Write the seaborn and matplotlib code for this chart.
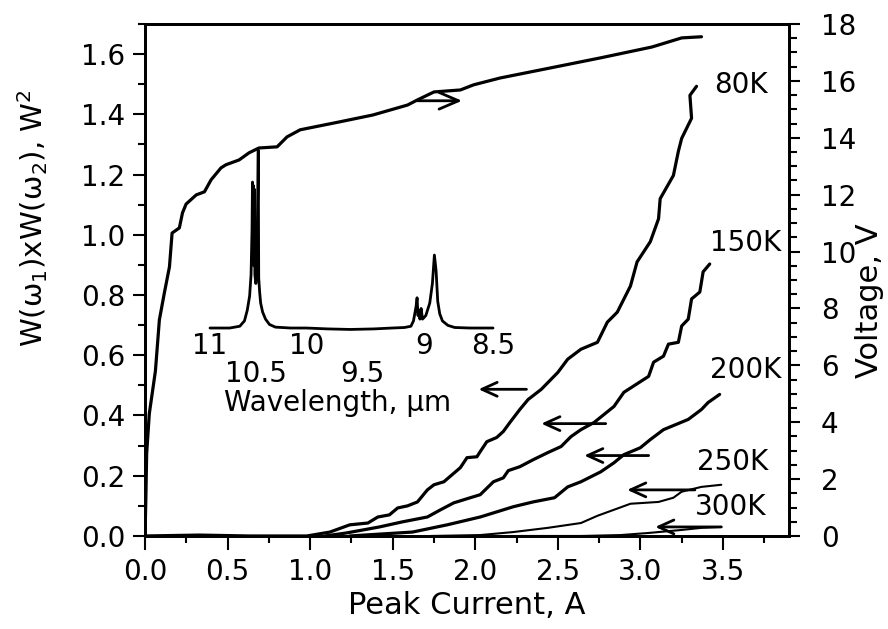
import numpy as np
import pandas as pd
import matplotlib
matplotlib.use("Agg")
import matplotlib.pyplot as plt
from matplotlib.ticker import MultipleLocator
import seaborn as sns

# --- output power curves (left axis), current in A, power in W^2 ---
i_80k = [0.0, 0.33, 0.63, 0.98, 1.12, 1.24, 1.35, 1.41, 1.48, 1.53, 1.59, 1.65, 1.71, 1.75, 1.81,
         1.91, 1.95, 2.01, 2.03, 2.07, 2.13, 2.17, 2.21, 2.27, 2.32, 2.40, 2.50, 2.56, 2.64, 2.74,
         2.80, 2.86, 2.94, 2.98, 3.06, 3.11, 3.12, 3.20, 3.23, 3.25, 3.31, 3.30, 3.34]
p_80k = [0.0, 0.003, 0.0, 0.0, 0.013, 0.037, 0.043, 0.063, 0.07, 0.093, 0.10, 0.113, 0.153, 0.17, 0.18,
         0.227, 0.26, 0.263, 0.28, 0.313, 0.327, 0.347, 0.377, 0.42, 0.453, 0.487, 0.543, 0.587, 0.62, 0.643,
         0.71, 0.743, 0.83, 0.91, 0.977, 1.053, 1.12, 1.197, 1.277, 1.32, 1.387, 1.463, 1.493]

i_150k = [1.09, 1.22, 1.42, 1.56, 1.71, 1.79, 1.87, 1.97, 2.03, 2.11, 2.17, 2.20, 2.27, 2.35, 2.44,
          2.52, 2.58, 2.64, 2.72, 2.84, 2.90, 3.05, 3.08, 3.14, 3.17, 3.23, 3.25, 3.29, 3.31, 3.36,
          3.38, 3.42]
p_150k = [0.0, 0.01, 0.03, 0.047, 0.063, 0.087, 0.11, 0.127, 0.137, 0.18, 0.193, 0.217, 0.23, 0.253, 0.277,
          0.297, 0.33, 0.353, 0.377, 0.43, 0.477, 0.53, 0.577, 0.597, 0.637, 0.643, 0.697, 0.72, 0.787, 0.81,
          0.877, 0.903]

i_200k = [1.24, 1.62, 1.83, 2.03, 2.23, 2.35, 2.48, 2.56, 2.64, 2.76, 2.84, 2.90, 3.00, 3.06, 3.14,
          3.29, 3.37, 3.41, 3.48]
p_200k = [0.0, 0.013, 0.037, 0.063, 0.097, 0.113, 0.127, 0.163, 0.18, 0.213, 0.243, 0.27, 0.293, 0.32, 0.353,
          0.387, 0.42, 0.443, 0.47]

i_250k = [1.73, 2.03, 2.23, 2.44, 2.64, 2.74, 2.84, 2.94, 3.11, 3.20, 3.25, 3.37, 3.49]
p_250k = [0.0, 0.003, 0.013, 0.027, 0.043, 0.067, 0.087, 0.107, 0.113, 0.127, 0.147, 0.163, 0.17]

i_300k = [2.27, 2.64, 2.88, 3.05, 3.25, 3.37, 3.49]
p_300k = [0.0, 0.0, 0.003, 0.01, 0.02, 0.027, 0.03]

# --- voltage-current curve (right axis) ---
i_volt = [0.0, 0.005, 0.01, 0.026, 0.063, 0.087, 0.117, 0.148, 0.164, 0.208, 0.227, 0.249, 0.31, 0.36,
          0.40, 0.46, 0.49, 0.57, 0.63, 0.69, 0.80, 0.86, 0.94, 1.18, 1.38, 1.59, 1.65, 1.75, 1.91,
          1.99, 2.15, 2.46, 2.76, 3.07, 3.25, 3.37]
volt = [0.0, 1.27, 2.9, 4.3, 5.8, 7.6, 8.54, 9.46, 10.65, 10.83, 11.36, 11.67, 11.99, 12.1,
        12.52, 12.94, 13.05, 13.22, 13.47, 13.64, 13.68, 14.03, 14.28, 14.56, 14.80, 15.15, 15.33, 15.61, 15.68,
        15.86, 16.10, 16.46, 16.81, 17.19, 17.51, 17.55]

# --- inset spectrum ---
wl_spec = [11.0, 10.78, 10.67, 10.62, 10.59, 10.565, 10.55, 10.54, 10.535, 10.53, 10.525, 10.52, 10.515,
           10.51, 10.50, 10.49, 10.475, 10.47, 10.46, 10.45, 10.43, 10.40, 10.36, 10.30, 10.15, 10.0, 9.8,
           9.6, 9.4, 9.25, 9.15, 9.10, 9.08, 9.06, 9.052, 9.045, 9.037, 9.03, 9.021, 9.01, 8.985, 8.955,
           8.935, 8.92, 8.907, 8.895, 8.88, 8.86, 8.82, 8.77, 8.66, 8.5]
int_spec = [0.0, 0.0, 0.01, 0.04, 0.10, 0.18, 0.30, 0.55, 0.82, 0.40, 0.80, 0.35, 0.78,
            0.30, 0.25, 0.30, 1.0, 0.28, 0.20, 0.14, 0.09, 0.05, 0.02, 0.005, 0.0, 0.0, -0.005,
            -0.008, -0.005, 0.0, 0.003, 0.01, 0.04, 0.12, 0.17, 0.07, 0.10, 0.05, 0.11, 0.05, 0.07, 0.14,
            0.25, 0.41, 0.32, 0.15, 0.08, 0.04, 0.015, 0.003, 0.0, 0.0]
wl_ticks = [11, 10.5, 10, 9.5, 9, 8.5]
wl_labels = ["11", "\n10.5", "10", "\n9.5", "9", "8.5"]

# --- temperature labels and arrows ---
temps = ["80K", "150K", "200K", "250K", "300K"]
temp_x = [3.61, 3.64, 3.635, 3.56, 3.545]
temp_y = [1.497, 0.973, 0.55, 0.247, 0.097]
arrow_tail = [2.31, 2.79, 3.05, 3.33, 3.49]
arrow_tip = [2.02, 2.40, 2.66, 2.92, 3.09]
arrow_y = [0.487, 0.373, 0.267, 0.153, 0.03]

sns.set_theme(style="ticks")
plt.rcParams["font.family"] = ["DejaVu Sans"]
plt.rcParams["axes.linewidth"] = 2.0
for key in ["text.color", "axes.labelcolor", "xtick.color", "ytick.color", "axes.edgecolor"]:
    plt.rcParams[key] = "black"

fig = plt.figure(figsize=(8.88, 6.29), dpi=100)
ax = fig.add_axes([0.1633, 0.1479, 0.7252, 0.8140])

curves = [(i_80k, p_80k, 2.3), (i_150k, p_150k, 2.3), (i_200k, p_200k, 2.3),
          (i_250k, p_250k, 1.5), (i_300k, p_300k, 1.5)]
for xs, ys, lw in curves:
    sns.lineplot(x=xs, y=ys, sort=False, estimator=None, color="black", lw=lw, ax=ax)

ax.set_xlim(0, 3.9)
ax.set_ylim(0, 1.7)
ax.set_xticks(np.arange(0, 3.51, 0.5))
ax.set_xticklabels([f"{v:.1f}" for v in np.arange(0, 3.51, 0.5)])
ax.set_yticks(np.arange(0, 1.61, 0.2))
ax.set_yticklabels([f"{v:.1f}" for v in np.arange(0, 1.61, 0.2)])
ax.xaxis.set_minor_locator(MultipleLocator(0.25))
ax.yaxis.set_minor_locator(MultipleLocator(0.1))
ax.tick_params(axis="x", which="major", direction="out", length=10, width=1.5, labelsize=20, pad=6)
ax.tick_params(axis="x", which="minor", direction="out", length=5, width=1.5)
ax.tick_params(axis="y", which="major", direction="out", length=9, width=1.5, labelsize=20, pad=5)
ax.tick_params(axis="y", which="minor", direction="out", length=5, width=1.5)
ax.set_xlabel("Peak Current, A", fontsize=22, va="center")
ax.xaxis.set_label_coords(0.5, -0.135)
ax.set_ylabel("W(ω$_1$)xW(ω$_2$), W$^2$", fontsize=21, va="center")
ax.yaxis.set_label_coords(-0.174, 0.62)
for sp in ax.spines.values():
    sp.set_visible(True)
    sp.set_color("black")

for t, tx, ty in zip(temps, temp_x, temp_y):
    ax.text(tx, ty, t, fontsize=20, ha="center", va="center")

for tail, tip, y in zip(arrow_tail, arrow_tip, arrow_y):
    ax.annotate("", xy=(tip, y), xytext=(tail, y),
                arrowprops=dict(arrowstyle="->,head_length=0.55,head_width=0.25",
                                lw=2, color="black", mutation_scale=20, shrinkA=0, shrinkB=0))

# voltage axis
ax2 = ax.twinx()
sns.lineplot(x=i_volt, y=volt, sort=False, estimator=None, color="black", lw=2.3, ax=ax2)
ax2.set_ylim(0, 18)
ax2.set_yticks(np.arange(0, 19, 2))
ax2.yaxis.set_minor_locator(MultipleLocator(0.5))
ax2.tick_params(axis="y", which="major", direction="out", length=8, width=1.5, labelsize=20, pad=15)
ax2.tick_params(axis="y", which="minor", direction="out", length=6, width=1.5)
ax2.set_ylabel("Voltage, V", fontsize=22, rotation=90, va="center")
ax2.yaxis.set_label_coords(1.125, 0.46)
ax2.annotate("", xy=(1.92, 15.3), xytext=(1.65, 15.3),
             arrowprops=dict(arrowstyle="->,head_length=0.7,head_width=0.3",
                             lw=2, color="black", mutation_scale=20, shrinkA=0, shrinkB=0))

# inset spectrum, spaced linearly in wavenumber
ax_in = fig.add_axes([0.2365, 0.4785, 0.3187, 0.283])
ax_in.patch.set_alpha(0)
ax_in.set_xscale("function", functions=(lambda w: -1e4 / w, lambda k: -1e4 / k))
ax_in.plot(wl_spec, int_spec, color="black", lw=2, clip_on=False)
ax_in.set_xlim(11.0, 8.5)
ax_in.set_ylim(0, 1.0)
ax_in.set_xticks(wl_ticks)
ax_in.set_xticklabels(wl_labels, fontsize=20, va="top", linespacing=1.0)
ax_in.set_xticks([10], minor=True)
ax_in.set_xticklabels([""], minor=True)
ax_in.set_yticks([])
ax_in.tick_params(axis="x", which="major", length=0, pad=3)
ax_in.tick_params(axis="x", which="minor", direction="in", length=12, width=1.2)
ax_in.set_xlabel("Wavelength, µm", fontsize=20, va="center")
ax_in.xaxis.set_label_coords(0.449, -0.42)
for sp in ax_in.spines.values():
    sp.set_visible(False)

fig.savefig("out.png", dpi=100)
